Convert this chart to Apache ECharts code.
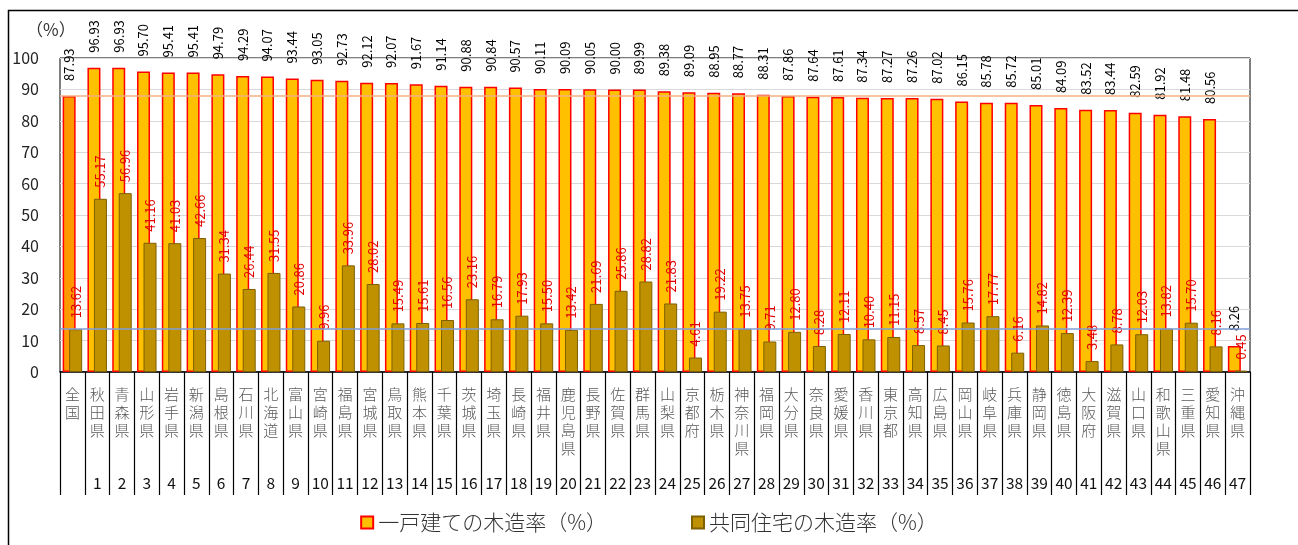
<!DOCTYPE html>
<html>
<head>
<meta charset="utf-8">
<script src="https://cdn.jsdelivr.net/npm/echarts@6/dist/echarts.min.js"></script>
<style>
  html, body { margin: 0; padding: 0; background: #fff; }
  #main { width: 1298px; height: 545px; }
</style>
</head>
<body>
<div id="main"></div>
<script>
  // 都道府県（一戸建ての木造率の高い順）
  const prefectures = ['全国', '秋田県', '青森県', '山形県', '岩手県', '新潟県', '島根県', '石川県', '北海道', '富山県',
    '宮崎県', '福島県', '宮城県', '鳥取県', '熊本県', '千葉県', '茨城県', '埼玉県', '長崎県', '福井県',
    '鹿児島県', '長野県', '佐賀県', '群馬県', '山梨県', '京都府', '栃木県', '神奈川県', '福岡県', '大分県',
    '奈良県', '愛媛県', '香川県', '東京都', '高知県', '広島県', '岡山県', '岐阜県', '兵庫県', '静岡県',
    '徳島県', '大阪府', '滋賀県', '山口県', '和歌山県', '三重県', '愛知県', '沖縄県']
  const ranks = [''].concat(Array.from({ length: 47 }, (_, i) => String(i + 1)))

  const detachedRate = [87.93, 96.93, 96.93, 95.70, 95.41, 95.41, 94.79, 94.29, 94.07, 93.44,
    93.05, 92.73, 92.12, 92.07, 91.67, 91.14, 90.88, 90.84, 90.57, 90.11,
    90.09, 90.05, 90.00, 89.99, 89.38, 89.09, 88.95, 88.77, 88.31, 87.86,
    87.64, 87.61, 87.34, 87.27, 87.26, 87.02, 86.15, 85.78, 85.72, 85.01,
    84.09, 83.52, 83.44, 82.59, 81.92, 81.48, 80.56, 8.26]
  const apartmentRate = [13.62, 55.17, 56.96, 41.16, 41.03, 42.66, 31.34, 26.44, 31.55, 20.86,
    9.96, 33.96, 28.02, 15.49, 15.61, 16.56, 23.16, 16.79, 17.93, 15.50,
    13.42, 21.69, 25.86, 28.82, 21.83, 4.61, 19.22, 13.75, 9.71, 12.80,
    8.28, 12.11, 10.40, 11.15, 8.57, 8.45, 15.76, 17.77, 6.16, 14.82,
    12.39, 3.48, 8.78, 12.03, 13.82, 15.70, 8.16, 0.45]

  const yTicks = [0, 10, 20, 30, 40, 50, 60, 70, 80, 90, 100]

  const jpFont = 'Noto Sans CJK JP'
  const chart = echarts.init(document.getElementById('main'))

  const option = {
    animation: false,
    textStyle: { fontFamily: jpFont },
    graphic: [
      {
        type: 'rect',
        shape: { x: 8.5, y: 10.5, width: 1320, height: 600 },
        style: { fill: 'none', stroke: '#000', lineWidth: 1.5 },
        silent: true
      },
      {
        type: 'text',
        left: 26,
        top: 21,
        style: { text: '（%）', fontSize: 17, fill: '#333', fontFamily: jpFont }
      }
    ],
    legend: {
      top: 507,
      left: 'center',
      itemWidth: 12,
      itemHeight: 12,
      itemGap: 84,
      icon: 'rect',
      textStyle: { fontSize: 21, color: '#333', fontFamily: jpFont, fontWeight: 300 },
      data: ['一戸建ての木造率（%）', '共同住宅の木造率（%）']
    },
    grid: {
      left: 60,
      right: 48,
      top: 58,
      bottom: 173,
      show: true,
      borderColor: '#000',
      borderWidth: 1
    },
    xAxis: {
      type: 'category',
      data: prefectures,
      axisLine: { show: true, lineStyle: { color: '#000', width: 1.5 } },
      axisTick: { show: true, interval: 0, alignWithLabel: false, length: 123, lineStyle: { color: '#000', width: 1.2 } },
      axisLabel: {
        interval: 0,
        margin: 13,
        fontSize: 15,
        fontWeight: 300,
        lineHeight: 18,
        color: '#595959',
        formatter: (v, i) => {
          const chars = v.split('')
          while (chars.length < 4) chars.push(' ')
          return chars.join('\n') + '\n \n{n|' + ranks[i] + '}'
        },
        rich: {
          n: { fontSize: 15.5, lineHeight: 16, color: '#111', fontWeight: 'normal', fontFamily: jpFont }
        }
      }
    },
    yAxis: {
      type: 'value',
      min: yTicks[0],
      max: yTicks[yTicks.length - 1],
      interval: 10,
      axisLine: { show: false },
      axisTick: { show: false },
      axisLabel: { fontSize: 16, color: '#222', margin: 21 },
      splitLine: { lineStyle: { color: '#D9D9D9', width: 1 } }
    },
    series: [
      {
        name: '一戸建ての木造率（%）',
        type: 'bar',
        barWidth: 13,
        barGap: '-50%',
        itemStyle: { color: '#FFC000', borderColor: '#FF0000', borderWidth: 1.5 },
        data: detachedRate.map((v, i) => i === 0 ? { value: v, itemStyle: { color: '#FF9900' } } : v),
        label: {
          show: true,
          position: 'top',
          rotate: 90,
          align: 'left',
          verticalAlign: 'middle',
          distance: 15,
          fontSize: 13,
          color: '#000',
          formatter: p => p.value.toFixed(2)
        },
        markLine: {
          silent: true,
          symbol: 'none',
          label: { show: false },
          lineStyle: { color: '#F4B183', width: 1.5, type: 'solid' },
          data: [{ yAxis: detachedRate[0] }]
        }
      },
      {
        name: '共同住宅の木造率（%）',
        type: 'bar',
        barWidth: 13,
        itemStyle: { color: '#BF9000', borderColor: '#7F6000', borderWidth: 1 },
        data: apartmentRate,
        label: {
          show: true,
          position: 'top',
          rotate: 90,
          align: 'left',
          verticalAlign: 'middle',
          distance: 11,
          fontSize: 13,
          color: '#E00000',
          formatter: p => p.value.toFixed(2)
        },
        markLine: {
          silent: true,
          symbol: 'none',
          label: { show: false },
          lineStyle: { color: '#7F9FD8', width: 1.5, type: 'solid' },
          data: [{ yAxis: apartmentRate[0] }]
        }
      }
    ]
  }

  chart.setOption(option)
  window.addEventListener('resize', () => chart.resize())
</script>
</body>
</html>
